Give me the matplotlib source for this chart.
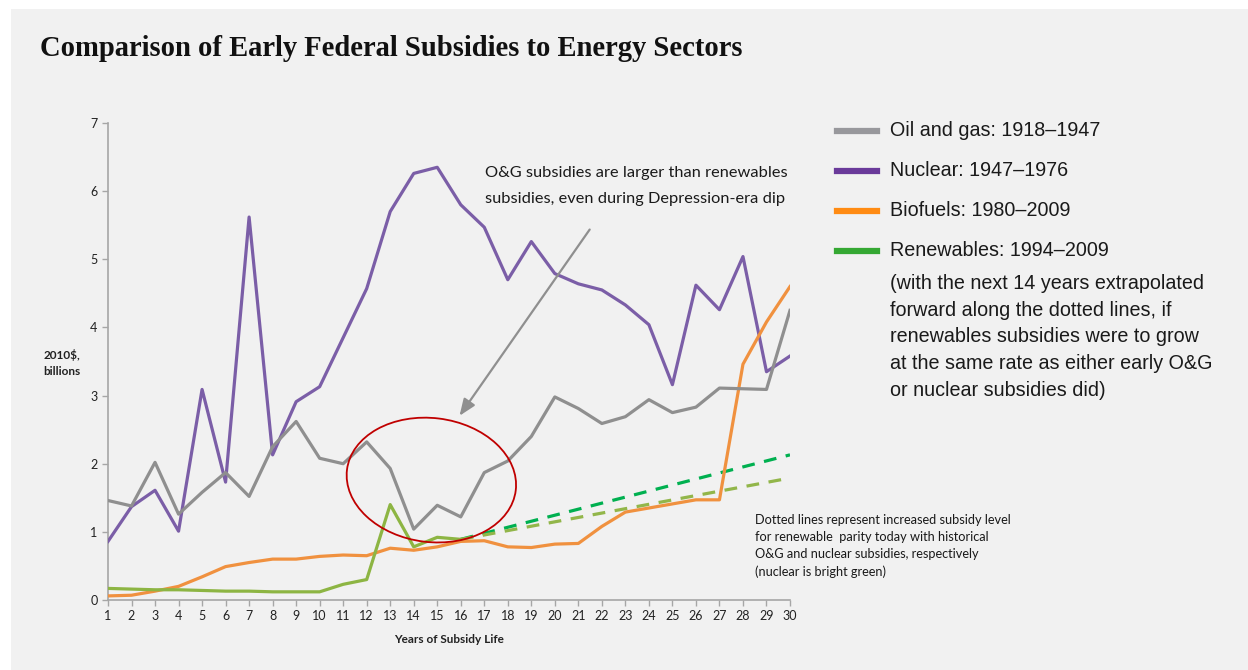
import matplotlib
matplotlib.use("Agg")
import matplotlib.pyplot as plt
from matplotlib.patches import Ellipse, Rectangle
from matplotlib.lines import Line2D
from matplotlib.transforms import ScaledTranslation

# values (2010$ billions)
years = list(range(1, 31))
oil_gas = [1.46, 1.38, 2.02, 1.26, 1.58, 1.87, 1.52, 2.25, 2.62, 2.08,
           2.00, 2.32, 1.93, 1.04, 1.39, 1.22, 1.87, 2.04, 2.40, 2.98,
           2.81, 2.59, 2.69, 2.94, 2.75, 2.83, 3.11, 3.10, 3.09, 4.25]
nuclear = [0.86, 1.37, 1.61, 1.01, 3.09, 1.73, 5.62, 2.13, 2.91, 3.13,
           3.85, 4.57, 5.70, 6.26, 6.35, 5.80, 5.47, 4.70, 5.26, 4.79,
           4.64, 4.55, 4.33, 4.04, 3.16, 4.62, 4.26, 5.04, 3.35, 3.58]
biofuels = [0.06, 0.07, 0.13, 0.20, 0.34, 0.49, 0.55, 0.60, 0.60, 0.64,
            0.66, 0.65, 0.76, 0.73, 0.78, 0.86, 0.87, 0.78, 0.77, 0.82,
            0.83, 1.08, 1.29, 1.35, 1.41, 1.47, 1.47, 3.46, 4.08, 4.60]
renew_years = list(range(1, 17))
renewables = [0.17, 0.16, 0.15, 0.15, 0.14, 0.13, 0.13, 0.12, 0.12, 0.12,
              0.23, 0.30, 1.40, 0.78, 0.92, 0.89]
proj_years = [16, 30]
proj_nuclear = [0.89, 2.13]
proj_og = [0.89, 1.79]

legend_labels = ["Oil and gas: 1918\u20131947", "Nuclear: 1947\u20131976",
                 "Biofuels: 1980\u20132009", "Renewables: 1994\u20132009"]
legend_colors = ["#98989c", "#6a3a9a", "#ff8b13", "#35a833"]

bg = "#f1f1f1"
fig = plt.figure(figsize=(12.48, 6.70), dpi=100, facecolor="white")
fig.add_artist(Rectangle((11 / 1248, 0), 1, 1 - 9 / 670, transform=fig.transFigure,
                         facecolor=bg, edgecolor="none", zorder=-10))

ax = fig.add_axes([108 / 1248, 70 / 670, 682 / 1248, 477 / 670])
ax.set_facecolor("none")

lw = 2.3
ax.plot(years, nuclear, color="#7b5ea7", lw=lw, zorder=3)
ax.plot(years, oil_gas, color="#8f8f8f", lw=lw, zorder=4)
ax.plot(years, biofuels, color="#f0913f", lw=lw, zorder=3)
ax.plot(renew_years, renewables, color="#8db543", lw=lw, zorder=5)
ax.plot(proj_years, proj_nuclear, color="#00b050", lw=lw, ls=(0, (4, 3)), zorder=2)
ax.plot(proj_years, proj_og, color="#92b64a", lw=lw, ls=(0, (4, 3)), zorder=2)

ax.set_xlim(1, 30)
ax.set_ylim(0, 7)
ax.set_xticks(years)
ax.set_yticks(range(0, 8))
for s in ["top", "right"]:
    ax.spines[s].set_visible(False)
for s in ["left", "bottom"]:
    ax.spines[s].set_color("#a6a6a6")
    ax.spines[s].set_linewidth(1.2)
ax.tick_params(colors="#a6a6a6", labelcolor="#222222", labelsize=9, length=4, width=1)
for lab in ax.get_xticklabels() + ax.get_yticklabels():
    lab.set_family("Lato")
ax.set_xlabel("Years of Subsidy Life", fontsize=8.5, fontweight="bold", family="Lato",
              color="#222222", labelpad=8)
fig.text(62 / 1248, 1 - 363 / 670, "2010$,\nbillions", fontsize=8.5, fontweight="bold",
         family="Lato", color="#222222", ha="center", va="center", linespacing=1.5)

# red ellipse around the Depression-era dip
ell = Ellipse((0, 0), 1.70, 1.24, angle=-7, facecolor="none", edgecolor="#c00000", lw=1.3,
              transform=fig.dpi_scale_trans + ScaledTranslation(14.75, 1.76, ax.transData),
              zorder=6)
ax.add_artist(ell)

ax.annotate("", xy=(15.88, 2.67), xytext=(21.55, 5.47),
            arrowprops=dict(arrowstyle="-|>,head_length=1.0,head_width=0.4",
                        color="#8f8f8f", lw=1.6))
ax.text(17.05, 6.07, "O&G subsidies are larger than renewables\nsubsidies, even during Depression-era dip",
        fontsize=11.8, family="Lato", color="#1a1a1a", va="center", ha="left", linespacing=2.08)

ax.text(0.949, 0.113, "Dotted lines represent increased subsidy level\n"
        "for renewable  parity today with historical\n"
        "O&G and nuclear subsidies, respectively\n"
        "(nuclear is bright green)", transform=ax.transAxes, fontsize=9.2, family="Lato",
        color="#1a1a1a", va="center", ha="left", linespacing=1.5)

# title
fig.text(40 / 1248, 1 - 48 / 670, "Comparison of Early Federal Subsidies to Energy Sectors",
         fontsize=20.6, fontweight="bold", family="Liberation Serif", color="#111111",
         va="center", ha="left")

# legend drawn by hand on the right
for i, (lab, col) in enumerate(zip(legend_labels, legend_colors)):
    yy = 1 - (131 + 40 * i) / 670
    fig.add_artist(Line2D([837 / 1248, 877 / 1248], [yy, yy], color=col, lw=4.5,
                          transform=fig.transFigure))
    fig.text(890 / 1248, yy, lab, fontsize=14.2, family="Liberation Sans", color="#1a1a1a",
             va="center", ha="left")
fig.text(890 / 1248, 1 - 337 / 670,
         "(with the next 14 years extrapolated\nforward along the dotted lines, if\n"
         "renewables subsidies were to grow\nat the same rate as either early O&G\n"
         "or nuclear subsidies did)", fontsize=14.2, family="Liberation Sans",
         color="#1a1a1a", va="center", ha="left", linespacing=1.53)

fig.savefig("out.png", dpi=100, facecolor="white")
